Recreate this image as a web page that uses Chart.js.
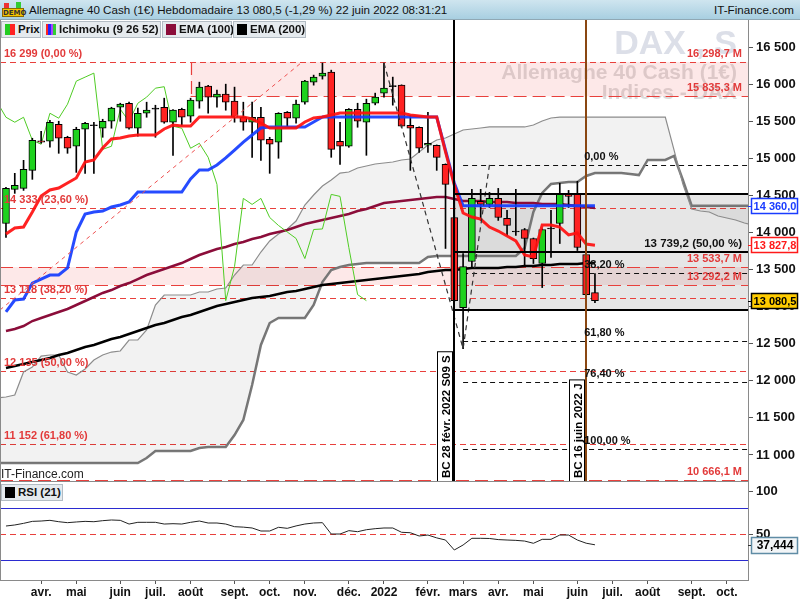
<!DOCTYPE html>
<html lang="fr">
<head>
<meta charset="utf-8">
<title>Allemagne 40 Cash - Hebdomadaire</title>
<script src="https://cdn.jsdelivr.net/npm/chart.js@4.4.1/dist/chart.umd.min.js"></script>
<style>
  html, body { margin: 0; padding: 0; background: #fff; }
  body { width: 800px; height: 600px; position: relative; overflow: hidden; font-family: "Liberation Sans", Arial, sans-serif; }
  canvas { position: absolute; left: 0; }
  #main { top: 0; }
  #rsi { top: 482px; }
  .bar { position: absolute; left: 0; top: 0; width: 800px; height: 19px; background: linear-gradient(#cfe5ef, #a8cfe1); border-bottom: 1px solid #90a8b4; font-size: 11.6px; line-height: 19px; color: #111; z-index: 2; }
  .tag { position: absolute; box-sizing: border-box; height: 17px; line-height: 15px; background: #e5eaee; border: 1px solid #b3bcc4; font-weight: bold; font-size: 11.5px; padding: 0 0 0 3px; color: #111; white-space: nowrap; z-index: 2; }
  .sw { display: inline-block; width: 10px; height: 11px; vertical-align: -2px; margin-right: 3px; }
  .demo { position: absolute; left: 2px; top: 3px; width: 22px; height: 14px; }
  .site { position: absolute; left: 1px; top: 467px; font-size: 12px; color: #222; z-index: 2; }
</style>
</head>
<body>
<div class="bar">
  <div class="demo">
    <div style="position:absolute;left:2px;top:0;width:5px;height:5px;background:#e33;"></div>
    <div style="position:absolute;left:14px;top:-1px;width:5px;height:6px;background:#3c3;"></div>
    <div style="position:absolute;left:0;top:5px;width:22px;height:9px;background:#f5c400;border:1px solid #8a6a00;box-sizing:border-box;font:bold 7px 'DejaVu Sans';line-height:8px;text-align:center;color:#333;">DEMO</div>
  </div>
  <span style="position:absolute;left:29px;">Allemagne 40 Cash (1€) Hebdomadaire 13 080,5 (-1,29 %) 22 juin 2022 08:31:21</span>
  <span style="position:absolute;right:6px;">IT-Finance.com</span>
</div>
<div class="tag" style="top:21px;left:1px;width:40px;"><span class="sw" style="background:linear-gradient(90deg,#2c2 50%,#f22 50%);"></span>Prix</div>
<div class="tag" style="top:21px;left:42px;width:119px;"><span class="sw" style="background:linear-gradient(90deg,#f22 25%,#22f 25%,#22f 50%,#a4f 50%,#a4f 75%,#3c3 75%);"></span>Ichimoku (9 26 52)</div>
<div class="tag" style="top:21px;left:162px;width:70px;"><span class="sw" style="background:#8b0d3a;"></span>EMA (100)</div>
<div class="tag" style="top:21px;left:233px;width:73px;"><span class="sw" style="background:#000;"></span>EMA (200)</div>
<div class="site">IT-Finance.com</div>
<div class="tag" style="top:484px;left:1px;width:62px;"><span class="sw" style="background:#000;"></span>RSI (21)</div>

<canvas id="main" width="800" height="482"></canvas>
<canvas id="rsi" width="800" height="118"></canvas>

<script>
// DONNEES - une valeur par semaine, semaine 0 = 8 mars 2021
const opens = [14121, 14581, 14594, 14837, 15236, 15229, 15459, 15283, 15162, 15391,
  15452, 15405, 15499, 15688, 15742, 15405, 15607, 15661, 15688, 15486,
  15661, 15567, 15770, 15972, 15824, 15864, 15770, 15553, 15486, 15553,
  15256, 15216, 15621, 15540, 15756, 16026, 16107, 16161, 15229, 15162,
  15661, 15486, 15742, 15878, 15979, 15986, 15445, 15418, 15175, 15175,
  14918, 14202, 12986, 13608, 14419, 14378, 14459, 14189, 14020, 14040,
  13919, 13581, 14060, 14121, 14513, 14513, 13703, 13189];
const highs = [14608, 14797, 14972, 15270, 15364, 15513, 15499, 15297, 15418, 15486,
  15486, 15526, 15688, 15742, 15756, 15675, 15756, 15715, 15810, 15655,
  15675, 15810, 16026, 15985, 15918, 15999, 15959, 15756, 15756, 15688,
  15283, 15615, 15630, 15783, 16050, 16121, 16283, 16188, 15486, 15670,
  15742, 15797, 15878, 16283, 16094, 15990, 15580, 15425, 15621, 15180,
  14925, 14527, 13716, 14581, 14581, 14540, 14594, 14297, 14581, 14054,
  13925, 14050, 14297, 14662, 14567, 14689, 13710, 13446];
const lows = [13932, 14527, 14567, 14716, 15202, 15148, 15067, 15067, 14810, 14797,
  14797, 15283, 15405, 15499, 15391, 15297, 15553, 15283, 15472, 15040,
  15445, 15486, 15675, 15607, 15688, 15648, 15486, 15378, 15013, 14972,
  14797, 15000, 15418, 15472, 15729, 15986, 16067, 15013, 14918, 15148,
  15418, 15040, 15720, 15824, 15716, 15418, 14837, 15080, 15080, 14837,
  13784, 13068, 12433, 13540, 14162, 14337, 14162, 13959, 13959, 13554,
  13581, 13257, 13662, 13851, 14337, 13757, 13149, 13054];
const closes = [14594, 14635, 14851, 15243, 15216, 15486, 15270, 15135, 15391, 15472,
  15439, 15499, 15675, 15729, 15405, 15607, 15648, 15675, 15486, 15648,
  15553, 15783, 15959, 15824, 15864, 15756, 15553, 15486, 15553, 15243,
  15189, 15607, 15540, 15729, 16040, 16094, 16148, 15121, 15162, 15661,
  15499, 15742, 15824, 15945, 15965, 15432, 15405, 15135, 15202, 15013,
  14648, 13081, 13540, 14459, 14378, 14459, 14202, 14094, 14006, 13919,
  13648, 14040, 14047, 14513, 14486, 13797, 13162, 13080.5];

// Ichimoku (9 26 52)
const tenkan = [13979, 14060, 14073, 14276, 14491, 14572, 14599, 14667, 14734, 14950,
  14977, 15138, 15260, 15273, 15300, 15314, 15314, 15314, 15395, 15448,
  15435, 15435, 15556, 15556, 15556, 15556, 15556, 15556, 15529, 15475,
  15408, 15408, 15408, 15408, 15489, 15543, 15556, 15583, 15610, 15610,
  15610, 15610, 15610, 15610, 15610, 15610, 15583, 15570, 15556, 15556,
  15085, 14640, 14262, 14208, 14181, 14073, 14019, 13952, 13885, 13696,
  13669, 14100, 14100, 14073, 13966, 13993, 13844, 13827.8];
const kijun = [12928, 13089, 13103, 13318, 13372, 13426, 13426, 13521, 14006, 14249,
  14276, 14289, 14343, 14370, 14410, 14545, 14545, 14545, 14545, 14545,
  14545, 14721, 14842, 14842, 14909, 15004, 15111, 15219, 15314, 15408,
  15422, 15422, 15422, 15422, 15422, 15489, 15556, 15556, 15556, 15556,
  15556, 15556, 15556, 15556, 15556, 15556, 15556, 15556, 15556, 15556,
  15111, 14667, 14360, 14360, 14360, 14360, 14360, 14360, 14360, 14360,
  14360, 14360, 14360, 14360, 14360, 14360, 14360, 14360];
// nuage : de la semaine -1 a la semaine 85 (projete 26 semaines en avant)
const senkouA = [11768, 11782, 11809, 12119, 12186, 12334, 12348, 12348, 12119, 12078,
  12159, 12280, 12348, 12388, 12402, 12550, 12550, 12685, 13022, 13157,
  13157, 13157, 13157, 13197, 13197, 13238, 13251, 13426, 13561, 13561,
  13736, 13885, 13979, 14046, 14154, 14370, 14505, 14626, 14707, 14801,
  14815, 14869, 14896, 14923, 14936, 14950, 14977, 14990, 15085, 15179,
  15246, 15273, 15327, 15381, 15395, 15408, 15422, 15422, 15422, 15422,
  15422, 15448, 15502, 15543, 15555, 15555, 15555, 15555, 15555, 15555,
  15555, 15555, 15555, 15555, 15555, 15555, 15555, 15111, 14653, 14316,
  14289, 14276, 14222, 14195, 14168, 14127, 14100];
const senkouB = [10892, 10892, 10892, 10892, 10892, 10892, 10892, 10892, 10892, 10892,
  10892, 10892, 10892, 10892, 10892, 10892, 10892, 10959, 11054, 11054,
  11054, 11054, 11054, 11094, 11108, 11108, 11108, 11269, 11472, 11943,
  12483, 12779, 12847, 12847, 12847, 12847, 13022, 13332, 13494, 13534,
  13561, 13575, 13588, 13588, 13588, 13588, 13588, 13588, 13588, 13669,
  13682, 13682, 13682, 13682, 13682, 13682, 13682, 13682, 13682, 13682,
  13790, 14276, 14532, 14653, 14667, 14680, 14680, 14761, 14801, 14801,
  14801, 14801, 14788, 14774, 14977, 14977, 14977, 15031, 14707, 14361,
  14361, 14361, 14361, 14361, 14361, 14361, 14361];

const ema100 = [12671, 12698, 12739, 12806, 12847, 12887, 12928, 12968, 13022, 13076,
  13130, 13184, 13224, 13278, 13318, 13372, 13426, 13467, 13507, 13548,
  13588, 13642, 13696, 13736, 13777, 13804, 13844, 13871, 13912, 13939,
  13979, 14006, 14033, 14073, 14114, 14141, 14168, 14195, 14222, 14249,
  14289, 14316, 14357, 14397, 14410, 14424, 14437, 14451, 14464, 14478,
  14478, 14451, 14424, 14424, 14424, 14410, 14410, 14410, 14397, 14397,
  14397, 14383, 14383, 14383, 14370, 14357, 14343, 14330];
const ema200 = [12173, 12200, 12227, 12254, 12281, 12308, 12348, 12375, 12415, 12456,
  12483, 12523, 12564, 12591, 12631, 12671, 12712, 12752, 12779, 12820,
  12860, 12887, 12928, 12968, 13008, 13035, 13062, 13089, 13116, 13130,
  13143, 13170, 13197, 13211, 13238, 13265, 13292, 13305, 13318, 13332,
  13345, 13359, 13372, 13386, 13399, 13413, 13426, 13440, 13467, 13480,
  13494, 13494, 13507, 13521, 13521, 13521, 13521, 13534, 13534, 13548,
  13548, 13561, 13561, 13575, 13575, 13575, 13588, 13588];

const rsi = [59.3, 60.5, 62.4, 64.7, 65.1, 65.9, 64.3, 63.2, 64.0, 64.7,
  64.3, 65.5, 66.3, 65.9, 61.6, 63.6, 63.6, 63.6, 61.6, 62.0,
  61.6, 63.6, 65.1, 62.8, 62.8, 61.6, 58.5, 58.0, 57.0, 53.5,
  53.5, 57.8, 56.6, 59.4, 61.6, 62.8, 63.2, 50.0, 50.0, 53.9,
  52.7, 55.0, 56.2, 57.0, 57.0, 52.0, 51.5, 47.7, 48.8, 45.5,
  43.0, 31.4, 37.2, 45.0, 45.0, 44.8, 43.5, 43.0, 42.6, 41.8,
  39.2, 43.8, 43.8, 48.8, 48.8, 43.0, 39.3, 37.444];
const rsiBands = [80, 50, 20];
const rsiTicks = [50, 100];

// axe du temps : premiere semaine de chaque mois
const monthTicks = [4, 8, 13, 17, 21, 26, 30, 34, 39, 43, 48, 52, 56, 60, 65, 69, 73, 78, 82];
const monthLabels = ['avr.', 'mai', 'juin', 'juil.', 'août', 'sept.', 'oct.', 'nov.', 'déc.', '2022',
  'févr.', 'mars', 'avr.', 'mai', 'juin', 'juil.', 'août', 'sept.', 'oct.'];
const priceTicks = [11000, 11500, 12000, 12500, 13000, 13500, 14000, 14500, 15000, 15500, 16000, 16500];

// traces
const fibLevels = [16299, 14333, 13118, 12135, 11152];
const fibLabels = ['16 299 (0,00 %)', '14 333 (23,60 %)', '13 118 (38,20 %)', '12 135 (50,00 %)', '11 152 (61,80 %)'];
const extLevels = [14912, 13453, 12541, 11984, 11081];
const extLabels = ['0,00 %', '38,20 %', '61,80 %', '76,40 %', '100,00 %'];
const zoneLevels = [16298.7, 15835.3, 13533.7, 13292.2, 10666.1];
const boxLevels = [14520, 13739.2, 12958.4];
const markWeeks = [51, 66];          // BC 28 févr. 2022, BC 16 juin 2022
const markLabels = ['BC 28 févr. 2022 S09 S', 'BC 16 juin 2022 J'];
const zoneStartWeek = 21;
const trendWeeks = [-0.68, 33.7];
const trendValues = [12955, 16298];
const abcWeeks = [43, 52, 55];
const abcValues = [16283, 12433, 14912];

const X_MIN = -0.68, X_MAX = 84.41;
const FONT = '"Liberation Sans", Arial, sans-serif';

const spaced = v => {
  const parts = String(v).split('.');
  const ip = parts[0].replace(/\B(?=(\d{3})+(?!\d))/g, ' ');
  return parts[1] ? ip + ',' + parts[1] : ip;
};
const pts = (arr, start) => arr.map((v, i) => ({ x: i + start, y: v }));

const candleColor = i => {
  const d = closes[i] - opens[i];
  if (Math.abs(d) < 15) return '#000';
  return d > 0 ? '#1ed21e' : '#ff2222';
};

const mainDecor = {
  id: 'mainDecor',
  beforeDatasetsDraw(chart) {
    const { ctx, chartArea: a, scales: { x, y } } = chart;
    const X = v => x.getPixelForValue(v), Y = v => y.getPixelForValue(v);
    ctx.save();
    ctx.beginPath(); ctx.rect(a.left, a.top, a.right - a.left, a.bottom - a.top); ctx.clip();

    // filigrane
    ctx.textAlign = 'right';
    ctx.fillStyle = 'rgba(205,209,222,0.7)';
    ctx.font = 'bold 34px ' + FONT;
    ctx.fillText('DAX , S', 737, 54);
    ctx.fillStyle = 'rgba(190,190,190,0.55)';
    ctx.font = 'bold 21px ' + FONT;
    ctx.fillText('Allemagne 40 Cash (1€)', 737, 79);
    ctx.fillText('Indices - DAX', 737, 99);

    // zones
    ctx.fillStyle = 'rgba(235,50,50,0.11)';
    const zx = X(zoneStartWeek);
    ctx.fillRect(zx, Y(zoneLevels[0]), a.right - zx, Y(zoneLevels[1]) - Y(zoneLevels[0]));
    ctx.fillRect(a.left, Y(zoneLevels[2]), a.right - a.left, Y(zoneLevels[3]) - Y(zoneLevels[2]));

    // boite fibo
    const bx = X(markWeeks[0]);
    ctx.fillStyle = 'rgba(100,100,100,0.16)';
    ctx.fillRect(bx, Y(boxLevels[0]), a.right - bx, Y(boxLevels[2]) - Y(boxLevels[0]));

    const hl = (yy, x0, x1, color, dash, w) => {
      ctx.strokeStyle = color; ctx.lineWidth = w; ctx.setLineDash(dash);
      ctx.beginPath(); ctx.moveTo(x0, Math.round(yy) + 0.5); ctx.lineTo(x1, Math.round(yy) + 0.5); ctx.stroke();
    };
    fibLevels.forEach(v => hl(Y(v), a.left, a.right, '#e8403c', [6, 4], 1));
    hl(Y(zoneLevels[1]), zx, a.right, '#e8403c', [13, 6], 1.2);
    hl(Y(zoneLevels[2]), a.left, a.right, '#e8403c', [13, 6], 1.2);
    hl(Y(zoneLevels[3]), a.left, a.right, '#e8403c', [13, 6], 1.2);
    hl(Y(zoneLevels[4]), a.left, a.right, '#e8403c', [13, 6], 1.2);
    ctx.strokeStyle = '#e8403c'; ctx.setLineDash([13, 6]); ctx.lineWidth = 1.2;
    ctx.beginPath(); ctx.moveTo(Math.round(zx) + 0.5, Y(zoneLevels[0])); ctx.lineTo(Math.round(zx) + 0.5, Y(zoneLevels[1])); ctx.stroke();
    extLevels.forEach(v => hl(Y(v), X(52), a.right, '#111', [5, 4], 1));
    ctx.restore();
  },
  afterDatasetsDraw(chart) {
    const { ctx, chartArea: a, scales: { x, y } } = chart;
    const X = v => x.getPixelForValue(v), Y = v => y.getPixelForValue(v);
    ctx.save();
    ctx.beginPath(); ctx.rect(a.left, a.top, a.right - a.left, a.bottom - a.top); ctx.clip();
    ctx.setLineDash([]);

    // lignes de la boite
    const bx = X(markWeeks[0]);
    ctx.strokeStyle = '#000'; ctx.lineWidth = 2;
    boxLevels.forEach(v => {
      ctx.beginPath(); ctx.moveTo(bx, Math.round(Y(v))); ctx.lineTo(a.right, Math.round(Y(v))); ctx.stroke();
    });
    // verticales
    [['#000', markWeeks[0]], ['#8a4712', markWeeks[1]]].forEach(([c, w]) => {
      ctx.strokeStyle = c; ctx.lineWidth = 2;
      ctx.beginPath(); ctx.moveTo(Math.round(X(w)), a.top); ctx.lineTo(Math.round(X(w)), a.bottom); ctx.stroke();
    });

    // textes
    ctx.textBaseline = 'alphabetic';
    ctx.font = 'bold 11px ' + FONT;
    ctx.fillStyle = '#e23a3a';
    ctx.textAlign = 'left';
    fibLevels.forEach((v, i) => ctx.fillText(fibLabels[i], 4, Y(v) - 5));
    ctx.textAlign = 'right';
    zoneLevels.forEach(v => ctx.fillText(spaced(v) + ' M', 742, Y(v) - 5));
    ctx.fillStyle = '#111';
    ctx.font = 'bold 11.5px ' + FONT;
    ctx.fillText(spaced(boxLevels[1]) + ' (50,00 %)', 742, Y(boxLevels[1]) - 5);
    ctx.textAlign = 'left';
    ctx.font = 'bold 11px ' + FONT;
    extLevels.forEach((v, i) => ctx.fillText(extLabels[i], X(markWeeks[1]) - 2, Y(v) - 5));

    // etiquettes verticales
    ctx.font = 'bold 11.5px ' + FONT;
    markWeeks.forEach((w, i) => {
      const xr = Math.round(X(w)) - 1;
      const len = ctx.measureText(markLabels[i]).width + 8;
      ctx.fillStyle = '#fff';
      ctx.fillRect(xr - 16, a.bottom - len, 16, len);
      ctx.strokeStyle = '#000'; ctx.lineWidth = 1;
      ctx.strokeRect(xr - 15.5, a.bottom - len + 0.5, 15, len);
      ctx.save();
      ctx.translate(xr - 7.5, a.bottom - 4);
      ctx.rotate(-Math.PI / 2);
      ctx.fillStyle = '#000'; ctx.textAlign = 'left'; ctx.textBaseline = 'middle';
      ctx.fillText(markLabels[i], 0, 1);
      ctx.restore();
    });
    ctx.restore();

    // cadres
    ctx.save();
    ctx.strokeStyle = '#8a8a8a'; ctx.lineWidth = 1;
    ctx.beginPath(); ctx.moveTo(0.5, a.top); ctx.lineTo(0.5, a.bottom); ctx.stroke();
    ctx.beginPath(); ctx.moveTo(0, a.bottom - 0.5); ctx.lineTo(a.right, a.bottom - 0.5); ctx.stroke();

    // valeurs sur l'axe
    const tag = (v, txt, fg, bg, border) => {
      const yy = Math.round(Y(v));
      ctx.fillStyle = bg; ctx.fillRect(751, yy - 8, 47, 16);
      ctx.strokeStyle = border; ctx.lineWidth = 1.5; ctx.strokeRect(751.5, yy - 7.5, 46, 15);
      ctx.strokeStyle = border; ctx.lineWidth = 1;
      ctx.beginPath(); ctx.moveTo(a.right, yy + 0.5); ctx.lineTo(751, yy + 0.5); ctx.stroke();
      ctx.fillStyle = fg; ctx.font = 'bold 11px ' + FONT; ctx.textAlign = 'center'; ctx.textBaseline = 'middle';
      ctx.fillText(txt, 775, yy + 1);
    };
    tag(kijun[kijun.length - 1], '14 360,0', '#1a3cff', '#fff', '#1a3cff');
    tag(tenkan[tenkan.length - 1], '13 827,8', '#ff1a1a', '#fff', '#ff1a1a');
    tag(closes[closes.length - 1], '13 080,5', '#000', '#ffcc00', '#000');
    ctx.restore();
  }
};

new Chart(document.getElementById('main'), {
  type: 'bar',
  data: {
    datasets: [
      { type: 'line', label: 'Senkou A', data: pts(senkouA, -1), borderColor: '#8c8c8c', borderWidth: 1.2,
        pointRadius: 0, fill: '+1', backgroundColor: 'rgba(0,0,0,0.05)', order: 10 },
      { type: 'line', label: 'Senkou B', data: pts(senkouB, -1), borderColor: '#7a7a7a', borderWidth: 2.5,
        pointRadius: 0, fill: false, order: 10 },
      { type: 'line', label: 'EMA 200', data: pts(ema200, 0), borderColor: '#000', borderWidth: 2.5, pointRadius: 0, order: 7 },
      { type: 'line', label: 'EMA 100', data: pts(ema100, 0), borderColor: '#8b0d3a', borderWidth: 2.5, pointRadius: 0, order: 7 },
      { type: 'line', label: 'Chikou', data: pts(closes.slice(25), -1), borderColor: '#4fcc24', borderWidth: 1, pointRadius: 0, order: 6 },
      { label: 'Mèches', data: highs.map((h, i) => ({ x: i, y: [lows[i], h] })), backgroundColor: '#000',
        barThickness: 1, grouped: false, order: 5 },
      { label: 'Corps', data: opens.map((o, i) => ({ x: i, y: [o, closes[i]] })),
        backgroundColor: ctx => candleColor(ctx.dataIndex), borderColor: '#000', borderWidth: 1,
        borderSkipped: false, barThickness: 7, grouped: false, order: 4 },
      { type: 'line', label: 'Kijun', data: pts(kijun, 0), borderColor: 'rgba(20,60,255,0.92)', borderWidth: 3, pointRadius: 0, order: 3 },
      { type: 'line', label: 'Tenkan', data: pts(tenkan, 0), borderColor: 'rgba(255,15,15,0.92)', borderWidth: 3, pointRadius: 0, order: 2 },
      { type: 'line', label: 'Tendance', data: trendWeeks.map((w, i) => ({ x: w, y: trendValues[i] })),
        borderColor: '#ee5050', borderWidth: 1, borderDash: [4, 4], pointRadius: 0, order: 1 },
      { type: 'line', label: 'ABC', data: abcWeeks.map((w, i) => ({ x: w, y: abcValues[i] })),
        borderColor: '#333', borderWidth: 1.2, borderDash: [5, 4], pointRadius: 0, order: 1 }
    ]
  },
  options: {
    responsive: false, animation: false, devicePixelRatio: 1,
    layout: { padding: { top: 20, left: 0, right: 0, bottom: 0 } },
    plugins: { legend: { display: false }, tooltip: { enabled: false } },
    scales: {
      x: { type: 'linear', min: X_MIN, max: X_MAX, offset: false, display: false },
      y: {
        position: 'right', min: 10636, max: 16864,
        afterBuildTicks: s => { s.ticks = priceTicks.map(v => ({ value: v })); },
        afterFit: s => { s.width = 52; s.paddingTop = 0; s.paddingBottom = 0; },
        ticks: { callback: v => spaced(v), color: '#111', font: { family: FONT, size: 13, weight: 'bold' }, padding: 3 },
        grid: { drawOnChartArea: false, tickLength: 5, color: '#555' },
        border: { color: '#8a8a8a' }
      }
    }
  },
  plugins: [mainDecor]
});

const rsiDecor = {
  id: 'rsiDecor',
  beforeDatasetsDraw(chart) {
    const { ctx, chartArea: a, scales: { y } } = chart;
    ctx.save();
    rsiBands.forEach(v => {
      const yy = Math.round(y.getPixelForValue(v)) + 0.5;
      ctx.strokeStyle = v === 50 ? '#e8403c' : '#2b2bd0';
      ctx.setLineDash(v === 50 ? [6, 4] : []);
      ctx.lineWidth = 1;
      ctx.beginPath(); ctx.moveTo(a.left, yy); ctx.lineTo(a.right, yy); ctx.stroke();
    });
    ctx.setLineDash([]);
    ctx.strokeStyle = '#8a8a8a';
    ctx.beginPath(); ctx.moveTo(0.5, a.top); ctx.lineTo(0.5, a.bottom); ctx.stroke();
    ctx.restore();
  },
  afterDraw(chart) {
    const { ctx, chartArea: a, scales: { y } } = chart;
    const last = rsi[rsi.length - 1];
    const yy = Math.round(y.getPixelForValue(last));
    ctx.save();
    ctx.fillStyle = '#f2f5f7'; ctx.fillRect(751, yy - 8, 47, 17);
    ctx.strokeStyle = '#5f8ca5'; ctx.lineWidth = 1.5; ctx.strokeRect(751.5, yy - 7.5, 46, 16);
    ctx.lineWidth = 1; ctx.strokeStyle = '#333';
    ctx.beginPath(); ctx.moveTo(a.right, yy + 0.5); ctx.lineTo(751, yy + 0.5); ctx.stroke();
    ctx.fillStyle = '#000'; ctx.font = 'bold 12px ' + FONT; ctx.textBaseline = 'middle'; ctx.textAlign = 'center';
    ctx.fillText(String(last).replace('.', ','), 775, yy + 1);
    ctx.restore();
  }
};

new Chart(document.getElementById('rsi'), {
  type: 'line',
  data: {
    datasets: [
      { label: 'RSI (21)', data: pts(rsi, 0), borderColor: '#222', borderWidth: 1, pointRadius: 0 }
    ]
  },
  options: {
    responsive: false, animation: false, devicePixelRatio: 1,
    layout: { padding: 0 },
    plugins: { legend: { display: false }, tooltip: { enabled: false } },
    scales: {
      x: {
        type: 'linear', min: X_MIN, max: X_MAX, offset: false,
        afterBuildTicks: s => { s.ticks = monthTicks.map(v => ({ value: v })); },
        afterFit: s => { s.height = 20; s.paddingLeft = 0; s.paddingRight = 0; },
        ticks: { callback: (v, i) => monthLabels[i], autoSkip: false, maxRotation: 0, color: '#111',
          font: { family: FONT, size: 12, weight: 'bold' }, padding: 1 },
        grid: { drawOnChartArea: false, tickLength: 4, color: '#555' },
        border: { color: '#8a8a8a' }
      },
      y: {
        position: 'right', min: -3.5, max: 110.5,
        afterBuildTicks: s => { s.ticks = rsiTicks.map(v => ({ value: v })); },
        afterFit: s => { s.width = 52; s.paddingTop = 0; s.paddingBottom = 0; },
        ticks: { color: '#111', font: { family: FONT, size: 13, weight: 'bold' }, padding: 3 },
        grid: { drawOnChartArea: false, tickLength: 5, color: '#555' },
        border: { color: '#8a8a8a' }
      }
    }
  },
  plugins: [rsiDecor]
});
</script>
</body>
</html>
